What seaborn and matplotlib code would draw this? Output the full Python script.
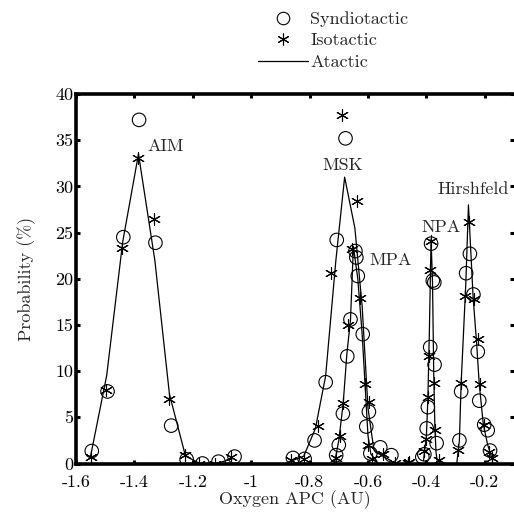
import matplotlib
matplotlib.use("Agg")
import matplotlib.pyplot as plt
from matplotlib.lines import Line2D
import seaborn as sns
import pandas as pd

# ---------------- data ----------------
methods = ["AIM", "MSK", "MPA", "NPA", "Hirshfeld"]

aim_syn_x = [-1.546, -1.492, -1.438, -1.384, -1.328, -1.274, -1.221, -1.167, -1.112, -1.057]
aim_syn_y = [1.35, 7.8, 24.5, 37.2, 23.9, 4.1, 0.45, 0.0, 0.2, 0.75]
aim_iso_x = [-1.550, -1.497, -1.444, -1.386, -1.333, -1.283, -1.228, -1.178, -1.124, -1.069]
aim_iso_y = [0.7, 8.0, 23.3, 33.1, 26.5, 7.0, 0.95, 0.0, 0.0, 0.75]
aim_ata_x = [-1.550, -1.495, -1.440, -1.386, -1.330, -1.280, -1.225, -1.175, -1.120, -1.065]
aim_ata_y = [0.8, 9.5, 24.0, 33.5, 22.0, 7.5, 0.8, 0.0, 0.0, 0.5]

msk_syn_x = [-0.857, -0.817, -0.783, -0.745, -0.707, -0.677, -0.643, -0.606, -0.558, -0.520]
msk_syn_y = [0.6, 0.5, 2.5, 8.8, 24.2, 35.2, 23.0, 4.0, 1.75, 0.9]
msk_iso_x = [-0.863, -0.820, -0.772, -0.726, -0.690, -0.637, -0.610, -0.547, -0.506, -0.462]
msk_iso_y = [0.4, 0.5, 4.1, 20.6, 37.7, 28.4, 8.6, 1.0, 0.1, 0.1]
msk_ata_x = [-0.86, -0.82, -0.78, -0.745, -0.71, -0.68, -0.645, -0.62, -0.60, -0.58, -0.55, -0.52]
msk_ata_y = [0.3, 0.8, 3.8, 9.5, 22.0, 31.0, 25.5, 17.0, 6.0, 1.5, 0.8, 0.3]

mpa_syn_x = [-0.709, -0.700, -0.686, -0.671, -0.660, -0.640, -0.635, -0.618, -0.597, -0.592]
mpa_syn_y = [0.9, 2.0, 5.4, 11.6, 15.6, 22.3, 20.3, 14.0, 5.6, 1.1]
mpa_iso_x = [-0.711, -0.697, -0.684, -0.669, -0.654, -0.629, -0.600, -0.597, -0.586]
mpa_iso_y = [0.6, 3.0, 6.6, 15.0, 23.2, 17.9, 2.0, 6.7, 0.5]
mpa_ata_x = [-0.715, -0.70, -0.685, -0.672, -0.66, -0.65, -0.635, -0.62, -0.61, -0.60, -0.59, -0.57]
mpa_ata_y = [0.0, 2.5, 6.5, 12.0, 15.5, 23.5, 20.0, 14.0, 8.5, 3.0, 1.0, 0.3]

npa_syn_x = [-0.414, -0.407, -0.399, -0.395, -0.387, -0.384, -0.378, -0.373, -0.372, -0.365]
npa_syn_y = [0.7, 1.0, 3.8, 6.1, 12.6, 23.8, 19.8, 19.6, 10.7, 2.2]
npa_iso_x = [-0.458, -0.407, -0.400, -0.395, -0.392, -0.387, -0.384, -0.373, -0.369, -0.358]
npa_iso_y = [0.2, 1.4, 2.7, 7.2, 11.6, 20.9, 24.1, 8.7, 3.6, 0.4]
npa_ata_x = [-0.41, -0.40, -0.395, -0.39, -0.384, -0.379, -0.375, -0.371, -0.367, -0.362]
npa_ata_y = [0.3, 3.0, 7.0, 14.0, 24.3, 19.5, 10.0, 4.0, 1.2, 0.0]

hir_syn_x = [-0.287, -0.281, -0.264, -0.251, -0.239, -0.224, -0.219, -0.202, -0.190, -0.182]
hir_syn_y = [2.5, 7.8, 20.6, 22.7, 18.3, 12.1, 6.8, 4.2, 3.6, 1.4]
hir_iso_x = [-0.293, -0.281, -0.267, -0.255, -0.236, -0.224, -0.215, -0.202, -0.187, -0.175]
hir_iso_y = [1.5, 8.7, 18.1, 26.1, 17.8, 13.5, 8.6, 4.2, 1.2, 0.6]
hir_ata_x = [-0.296, -0.287, -0.281, -0.265, -0.256, -0.24, -0.228, -0.219, -0.205, -0.19, -0.173]
hir_ata_y = [0.0, 2.5, 8.7, 19.5, 28.0, 18.0, 13.0, 8.6, 4.2, 2.0, 0.3]

label_x = [-1.354, -0.756, -0.595, -0.418, -0.363]
label_y = [34.3, 32.3, 22.0, 25.6, 29.7]

x_ticks = [-1.6, -1.4, -1.2, -1.0, -0.8, -0.6, -0.4, -0.2]
x_tick_labels = ["-1.6", "-1.4", "-1.2", "-1", "-0.8", "-0.6", "-0.4", "-0.2"]
y_ticks = [0, 5, 10, 15, 20, 25, 30, 35, 40]
y_tick_labels = ["0", "5", "10", "15", "20", "25", "30", "35", "40"]

series = {
    "AIM": (aim_syn_x, aim_syn_y, aim_iso_x, aim_iso_y, aim_ata_x, aim_ata_y),
    "MSK": (msk_syn_x, msk_syn_y, msk_iso_x, msk_iso_y, msk_ata_x, msk_ata_y),
    "MPA": (mpa_syn_x, mpa_syn_y, mpa_iso_x, mpa_iso_y, mpa_ata_x, mpa_ata_y),
    "NPA": (npa_syn_x, npa_syn_y, npa_iso_x, npa_iso_y, npa_ata_x, npa_ata_y),
    "Hirshfeld": (hir_syn_x, hir_syn_y, hir_iso_x, hir_iso_y, hir_ata_x, hir_ata_y),
}

rows = []
for m, (sx, sy, ix, iy, ax_, ay) in series.items():
    for x, y in zip(sx, sy):
        rows.append((m, "Syndiotactic", x, y))
    for x, y in zip(ix, iy):
        rows.append((m, "Isotactic", x, y))
    for x, y in zip(ax_, ay):
        rows.append((m, "Atactic", x, y))
df = pd.DataFrame(rows, columns=["method", "tacticity", "apc", "prob"])

# ---------------- style ----------------
sns.set_style("ticks")
plt.rcParams["font.family"] = ["cmr10", "DejaVu Serif"]
plt.rcParams["axes.formatter.use_mathtext"] = True
plt.rcParams["mathtext.fontset"] = "cm"

FS = 13

fig = plt.figure(figsize=(5.14, 5.13), dpi=100)
ax = fig.add_axes([76 / 514, (513 - 463.5) / 513, 438 / 514, (463.5 - 94) / 513])

star = (6, 2, 0)

ata = df[df.tacticity == "Atactic"]
sns.lineplot(data=ata, x="apc", y="prob", units="method", estimator=None, sort=False,
             color="black", linewidth=0.9, ax=ax, legend=False)
sns.scatterplot(data=df[df.tacticity == "Syndiotactic"], x="apc", y="prob", marker="o",
                s=95, facecolor="none", edgecolor="black", linewidth=0.8, ax=ax, legend=False)
sns.scatterplot(data=df[df.tacticity == "Isotactic"], x="apc", y="prob", marker=star,
                s=75, color="black", edgecolor="black", linewidth=0.8, ax=ax, legend=False)

for m, lx, ly in zip(methods, label_x, label_y):
    ax.text(lx, ly, m, fontsize=FS, ha="left", va="center")

ax.set_xlim(-1.6, -0.1)
ax.set_ylim(0, 40)
ax.set_xticks(x_ticks)
ax.set_xticklabels(x_tick_labels, fontsize=FS)
ax.set_yticks(y_ticks)
ax.set_yticklabels(y_tick_labels, fontsize=FS)
ax.set_xlabel("Oxygen APC (AU)", fontsize=FS, labelpad=0.5)
ax.set_ylabel("Probability (%)", fontsize=FS, labelpad=14)

for s in ["left", "top", "bottom"]:
    ax.spines[s].set_linewidth(2.6)
    ax.spines[s].set_color("black")
ax.spines["right"].set_visible(False)
ax.tick_params(direction="in", length=3, width=2.2, top=True, right=True,
               colors="black")
ax.tick_params(axis="x", pad=8)
ax.tick_params(axis="y", pad=2)

handles = [
    Line2D([], [], linestyle="none", marker="o", markersize=9, markerfacecolor="none",
           markeredgecolor="black", markeredgewidth=0.8),
    Line2D([], [], linestyle="none", marker=star, markersize=8.5, color="black",
           markeredgewidth=0.8),
    Line2D([], [], color="black", linewidth=0.9),
]
fig.legend(handles, ["Syndiotactic", "Isotactic", "Atactic"], loc="upper left",
           bbox_to_anchor=(258 / 514, 1 - 11 / 513), frameon=False, fontsize=FS,
           handlelength=2.75, handletextpad=0.15, labelspacing=0.33, borderpad=0,
           borderaxespad=0)

fig.savefig("out.png", dpi=100)
